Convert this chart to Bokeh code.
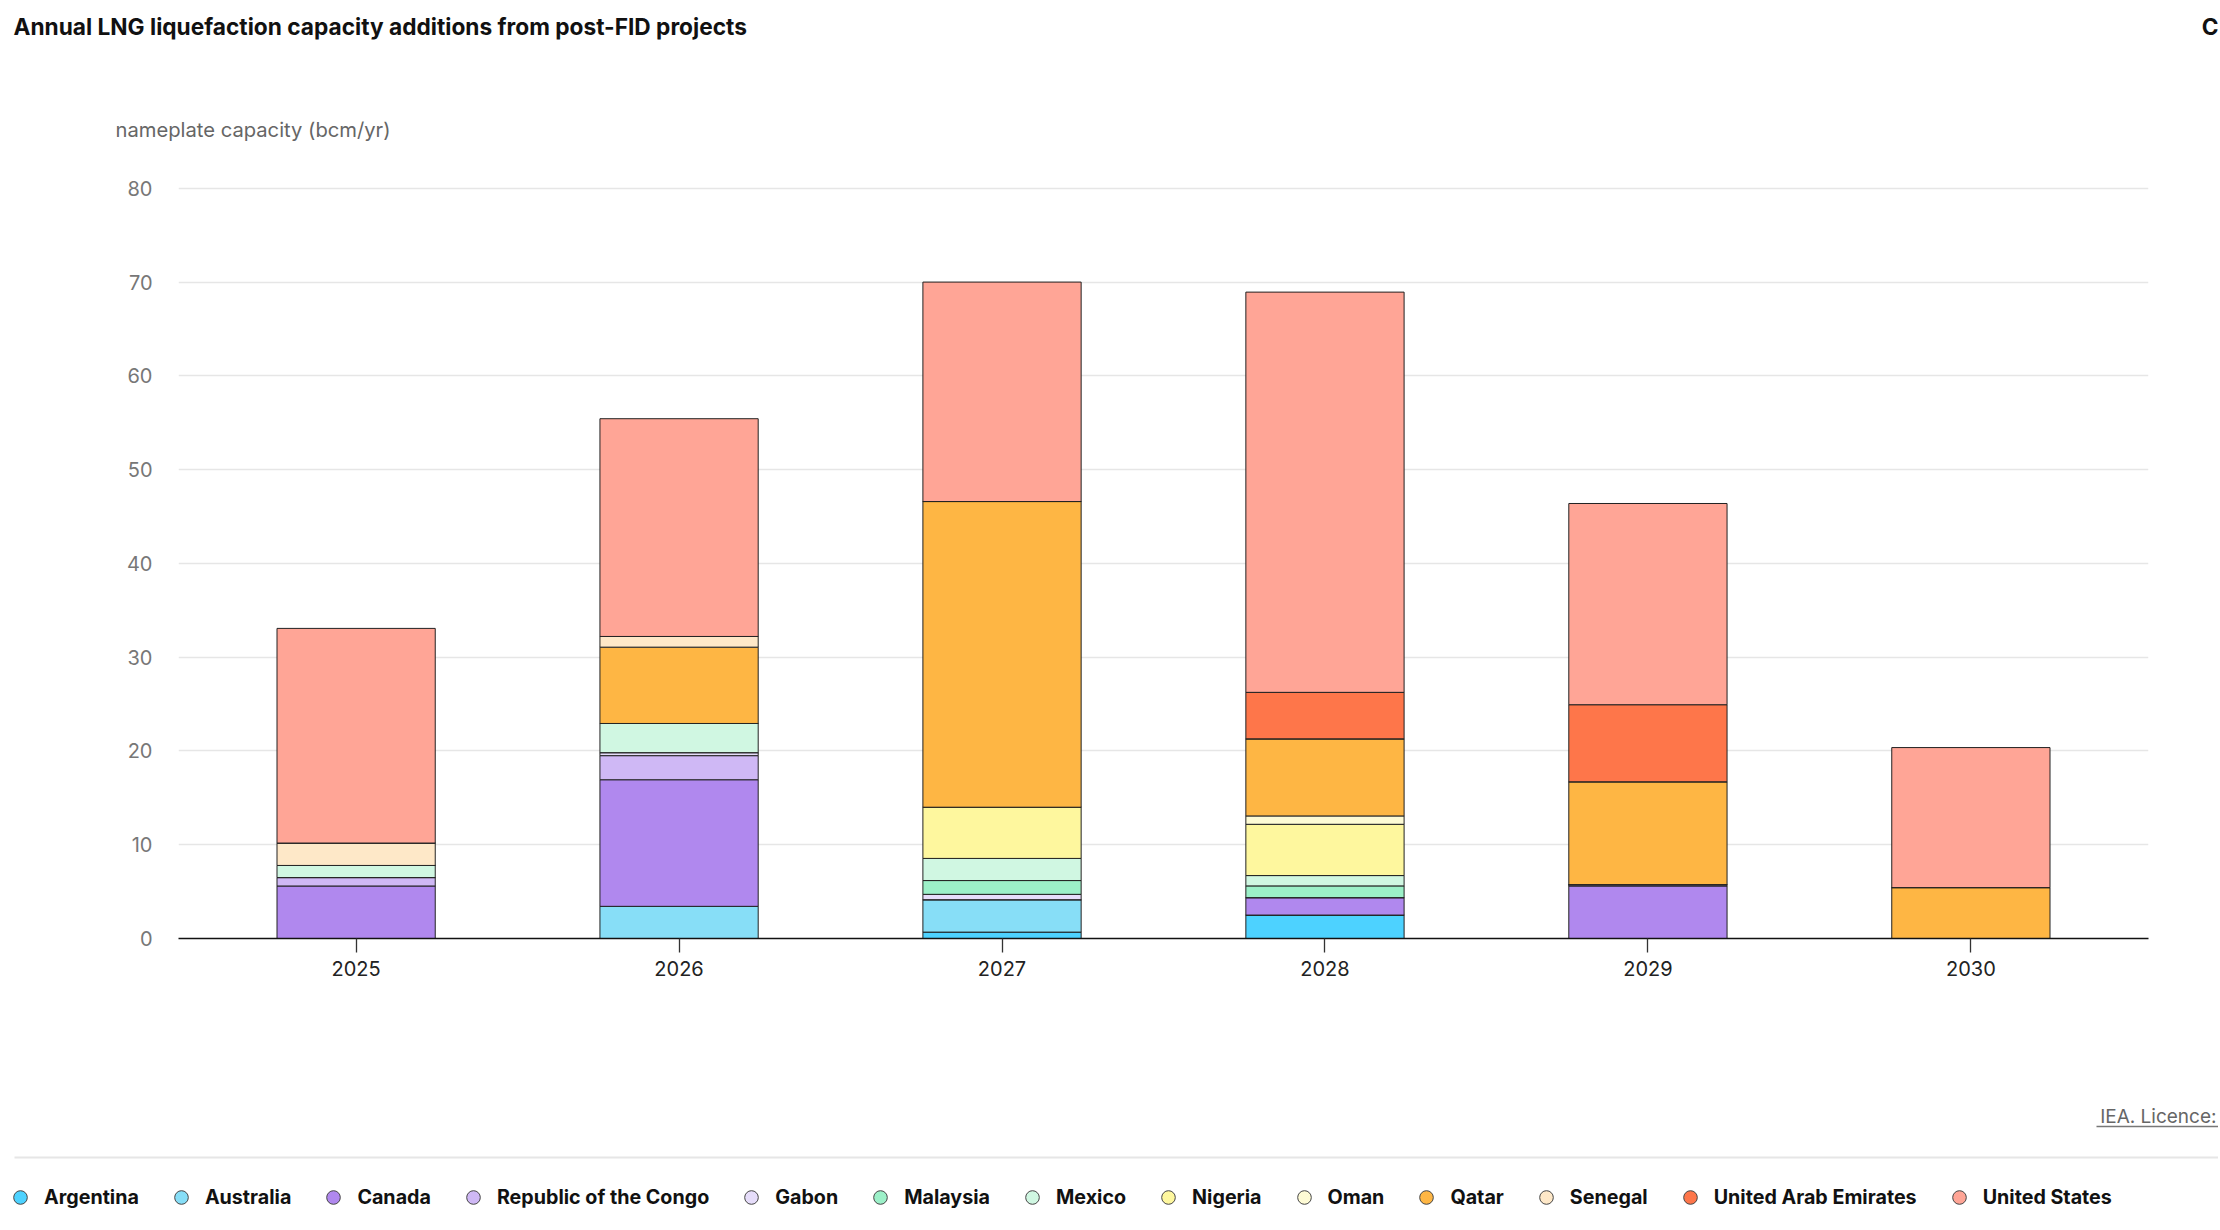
from bokeh.plotting import figure
from bokeh.models import (ColumnDataSource, FactorRange, Range1d, Legend,
                          LegendItem, FixedTicker)
from bokeh.layouts import column
from bokeh.core.properties import value
from bokeh.embed import file_html
from bokeh.resources import INLINE

# ---------------- data ----------------
years = ["2025", "2026", "2027", "2028", "2029", "2030"]
countries = ["Argentina", "Australia", "Canada", "Republic of the Congo", "Gabon",
             "Malaysia", "Mexico", "Nigeria", "Oman", "Qatar", "Senegal",
             "United Arab Emirates", "United States"]
argentina = [0, 0, 0.68, 2.5, 0, 0]
australia = [0, 3.43, 3.46, 0, 0, 0]
canada = [5.6, 13.5, 0, 1.86, 5.6, 0]
congo = [0.9, 2.57, 0, 0, 0.15, 0]
gabon = [0, 0.32, 0.57, 0, 0, 0]
malaysia = [0, 0, 1.47, 1.25, 0, 0]
mexico = [1.29, 3.11, 2.36, 1.1, 0, 0]
nigeria = [0, 0, 5.46, 5.47, 0, 0]
oman = [0, 0, 0, 0.89, 0, 0]
qatar = [0, 8.14, 32.6, 8.22, 10.96, 5.43]
senegal = [2.39, 1.14, 0, 0, 0, 0]
uae = [0, 0, 0, 4.96, 8.22, 0]
usa = [22.89, 23.22, 23.4, 42.68, 21.46, 14.93]
series = [argentina, australia, canada, congo, gabon, malaysia, mexico,
          nigeria, oman, qatar, senegal, uae, usa]
colors = ["#4dd2ff", "#87def7", "#b088ee", "#cfb8f5", "#e6ddfa", "#9cf0c8",
          "#d0f7e2", "#fef79e", "#fefbd5", "#feb644", "#fee8c8", "#fe764a",
          "#ffa596"]
y_ticks = [0, 10, 20, 30, 40, 50, 60, 70, 80]

title_text = "Annual LNG liquefaction capacity additions from post-FID projects"
y_label_text = "nameplate capacity (bcm/yr)"
licence_text = "IEA. Licence:"

FONT = "Inter"
W = 2218

data = {"year": years}
for name, vals in zip(countries, series):
    data[name] = vals
src = ColumnDataSource(data)


def blank(height):
    fig = figure(width=W, height=height, title=None, x_range=Range1d(0, W),
                 y_range=Range1d(0, height), output_backend="svg",
                 toolbar_location=None, min_border=0,
                 x_axis_location=None, y_axis_location=None)
    fig.outline_line_color = None
    fig.xgrid.visible = False
    fig.ygrid.visible = False
    fig.frame_align = False
    return fig


# ---------------- header: title, y-axis caption ----------------
HH = 160
h = blank(HH)
h.text(x=[13], y=[HH - 25.5], text=[title_text], text_font=value(FONT),
       text_font_size="22.7px", text_font_style="bold", text_color="#111111",
       text_baseline="middle", text_align="left")
h.text(x=[W], y=[HH - 25.5], text=["C"], text_font=value(FONT),
       text_font_size="22.6px", text_font_style="bold", text_color="#111111",
       text_baseline="middle", text_align="right")
h.text(x=[115], y=[HH - 129], text=[y_label_text], text_font=value(FONT),
       text_font_size="20.2px", text_color="#666666", text_baseline="middle",
       text_align="left")

# ---------------- main chart ----------------
p = figure(width=W, height=938, title=None,
           x_range=FactorRange(factors=years, range_padding=0.05,
                               range_padding_units="absolute"),
           y_range=Range1d(0, 80.3),
           output_backend="svg", toolbar_location=None,
           min_border_left=178, min_border_right=W - 2148,
           min_border_top=25, min_border_bottom=160)
p.frame_align = False
p.outline_line_color = None

p.vbar_stack(countries, x="year", width=0.49, source=src,
             fill_color=colors, line_color="#222222", line_width=1)

p.xgrid.visible = False
p.ygrid.grid_line_color = "#e6e6e6"
p.ygrid.grid_line_width = 1.4

p.yaxis.ticker = FixedTicker(ticks=y_ticks)
p.yaxis.axis_line_color = None
p.yaxis.major_tick_line_color = None
p.yaxis.minor_tick_line_color = None
p.yaxis.major_tick_out = 0
p.yaxis.major_tick_in = 0
p.yaxis.major_label_standoff = 26
p.yaxis.major_label_text_font = FONT
p.yaxis.major_label_text_font_size = "20px"
p.yaxis.major_label_text_color = "#777777"

p.xaxis.axis_line_color = "#111111"
p.xaxis.axis_line_width = 1.4
p.xaxis.major_tick_line_color = "#333333"
p.xaxis.major_tick_line_width = 1.3
p.xaxis.major_tick_out = 14
p.xaxis.major_tick_in = 0
p.xaxis.minor_tick_line_color = None
p.xaxis.major_label_standoff = 8
p.xaxis.major_label_text_font = FONT
p.xaxis.major_label_text_font_size = "20px"
p.xaxis.major_label_text_color = "#222222"

# ---------------- footer: licence, separator, legend ----------------
FH = 130
f = blank(FH)
f.text(x=[W - 2], y=[FH - 18], text=[licence_text], text_font=value(FONT),
       text_font_size="19px", text_color="#666666", text_baseline="middle",
       text_align="right")
f.segment(x0=[2096], y0=[FH - 28], x1=[W], y1=[FH - 28],
          line_color="#777777", line_width=1.5)
f.segment(x0=[14], y0=[FH - 59], x1=[W], y1=[FH - 59],
          line_color="#e6e6e6", line_width=2)

nan = float("nan")
items = []
for name, c in zip(countries, colors):
    r = f.scatter(x=[nan], y=[nan], marker="circle", size=13, fill_color=c,
                  line_color="#444444", line_width=1)
    items.append(LegendItem(label=name, renderers=[r]))
leg = Legend(items=items, orientation="horizontal", location=(3, 14),
             glyph_width=34, glyph_height=34, label_standoff=7, spacing=25,
             padding=0, margin=0, border_line_color=None,
             background_fill_alpha=0, label_text_font=FONT,
             label_text_font_size="19.7px", label_text_font_style="bold",
             label_text_color="#111111")
f.add_layout(leg)

layout = column(h, p, f, spacing=0)
open("out.html", "w").write(file_html(layout, INLINE))
